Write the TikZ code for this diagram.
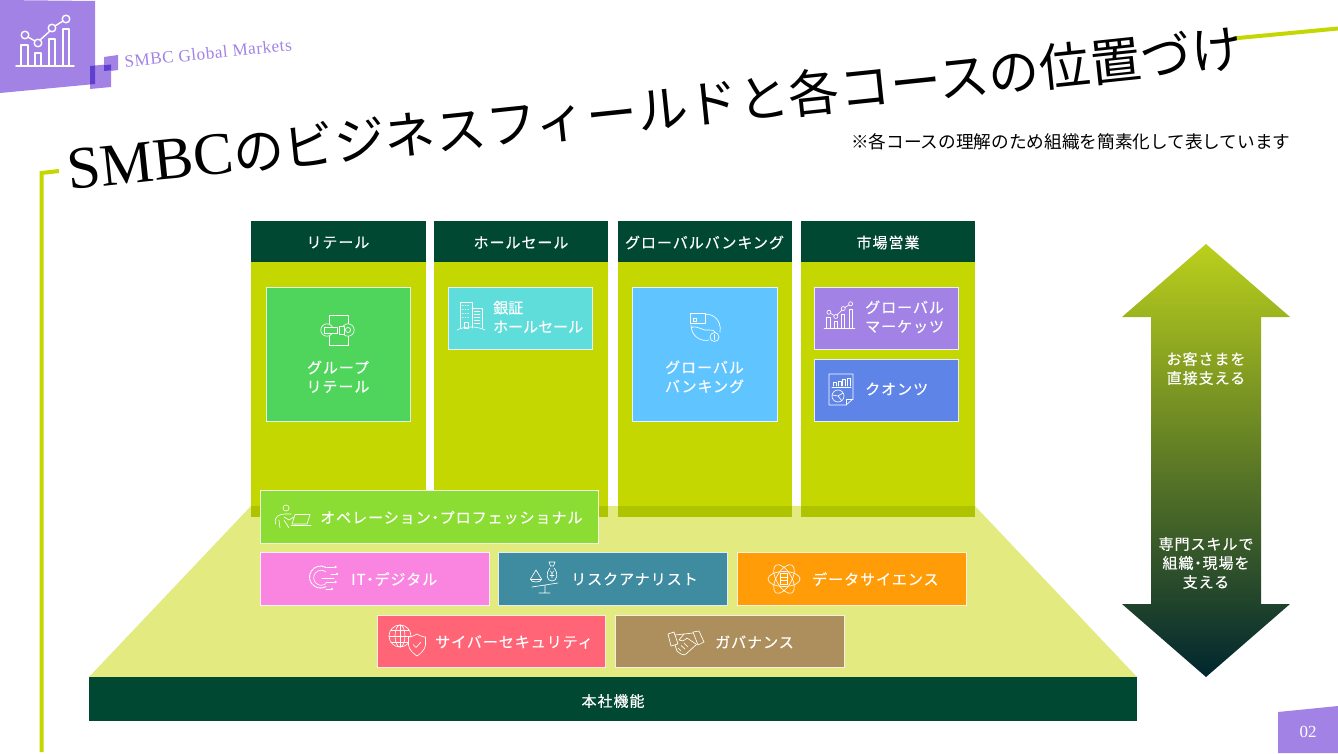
\documentclass[tikz,border=0pt]{standalone}
\usepackage{fontspec}
\setmainfont{Liberation Serif}
\newfontfamily\jp[LetterSpace=6.5,FakeBold=0.35]{Noto Sans CJK JP}
\newfontfamily\jpn[FakeBold=0.35]{Noto Sans CJK JP}
\newfontfamily\jpt{Noto Sans CJK JP}
\newfontfamily\ser{Liberation Serif}
\newfontfamily\serw[LetterSpace=3]{Liberation Serif}
\definecolor{dkgreen}{HTML}{004831}
\definecolor{lime}{HTML}{C4D700}
\definecolor{palelime}{HTML}{E2EA80}
\definecolor{bandlime}{HTML}{AFC400}
\definecolor{cgreen}{HTML}{50D55C}
\definecolor{ccyan}{HTML}{5EDDDB}
\definecolor{cblue}{HTML}{60C5FF}
\definecolor{cpurple}{HTML}{A283E5}
\definecolor{cindigo}{HTML}{5F84E8}
\definecolor{copgreen}{HTML}{8CDD33}
\definecolor{cpink}{HTML}{F985E0}
\definecolor{cteal}{HTML}{3F8CA0}
\definecolor{corange}{HTML}{FF9C08}
\definecolor{cred}{HTML}{FF6576}
\definecolor{cbrown}{HTML}{AD8F5E}
\definecolor{cdeep}{HTML}{5F3FD0}
\definecolor{arrowtop}{HTML}{BBD01C}
\definecolor{arrowmid}{HTML}{3F752F}
\definecolor{arrowbot}{HTML}{00262F}
\tikzset{
  cardbox/.style={fill=#1,draw=white!85!#1,line width=1pt},
  lab/.style={text=white,align=center,inner sep=0pt,font=\jp\fontsize{15}{19}\selectfont},
  labw/.style={lab,anchor=west},
  ico/.style={draw=white,line width=.65pt,line cap=round,line join=round},
  limeline/.style={draw=lime,line width=4pt}
}
\newcommand{\ndot}{\kern-3pt・\kern-3pt}
\newcommand{\chartico}[1]{%
  \draw[ico,#1] (-29,23) -- (29,23);
  \draw[ico,#1] (-24,23) -- (-24,2) -- (-17,2) -- (-17,23);
  \draw[ico,#1] (-10,23) -- (-10,10) -- (-4,10) -- (-4,23);
  \draw[ico,#1] (4,23) -- (4,-4) -- (10,-4) -- (10,23);
  \draw[ico,#1] (18,23) -- (18,-14) -- (24,-14) -- (24,23);
  \draw[ico,#1] (-20,-8) circle (3.8) (-7,0) circle (3.8) (7,-15) circle (3.8) (21,-24) circle (3.8);
  \draw[ico,#1] (-17,-6) -- (-10,-2) (-5,-3) -- (5,-12) (10,-17) -- (18,-22);
}
\begin{document}
\begin{tikzpicture}[x=1pt,y=-1pt]
\useasboundingbox (0,0) rectangle (1338,754);
\fill[white] (0,0) rectangle (1338,754);

% header decoration
\fill[cpurple] (0,0) -- (95,1) -- (95,84) -- (0,93) -- cycle;
\fill[cpurple] (90,66) -- (111,64) -- (111,87) -- (90,89) -- cycle;
\fill[cpurple] (104,57) -- (118,55) -- (118,70) -- (104,72) -- cycle;
\fill[cdeep] (90,66) -- (95,65.5) -- (95,84) -- (90,84.5) -- cycle;
\fill[cdeep] (104,65.2) -- (111,64.5) -- (111,70.3) -- (104,71) -- cycle;
\begin{scope}[shift={(45,43)}]
  \chartico{line width=1.4pt}
\end{scope}
\node[rotate=5.8,anchor=base west,text=cpurple,inner sep=0pt,font=\serw\fontsize{17.2}{20}\selectfont] (brand) at (125,67.5) {SMBC Global Markets};

% accent lines
\draw[limeline] (59,171) -- (41.5,173) -- (41.5,752);
\draw[limeline] (1233,38.5) -- (1338,28.5);

% title
\node[rotate=6,anchor=base west,inner sep=0pt,text=black] (title) at (69,190) {{\ser\fontsize{60}{64}\selectfont SMBC}{\jpt\fontsize{50.9}{56}\selectfont のビジネスフィールドと各コースの位置づけ}};
\node[anchor=base west,inner sep=0pt,text=black,font=\jpt\fontsize{17.65}{20}\selectfont] (note) at (851,148.5) {※各コースの理解のため組織を簡素化して表しています};

% base trapezoid
\fill[palelime] (89,677) -- (251,506) -- (975,506) -- (1137,677) -- cycle;

% columns
\foreach \xa/\xb in {251/425.5,434/608,617.5/791.5,801/975}{
  \fill[lime] (\xa,262) rectangle (\xb,506);
  \fill[bandlime] (\xa,506) rectangle (\xb,517);
  \fill[dkgreen] (\xa,221) rectangle (\xb,262);
}
\node[lab] (h1) at (338,242.5) {リテール};
\node[lab] (h2) at (521,242.5) {ホールセール};
\node[lab] (h3) at (704.5,242.5) {グローバルバンキング};
\node[lab] (h4) at (888,242.5) {市場営業};

% upper cards
\draw[cardbox=cgreen] (266.5,287) rectangle (410.5,421);
\draw[cardbox=ccyan] (448,287) rectangle (592,349);
\draw[cardbox=cblue] (632.5,287) rectangle (777,421);
\draw[cardbox=cpurple] (814,287) rectangle (958.5,349);
\draw[cardbox=cindigo] (814,359) rectangle (958.5,421);
\node[lab] (t1) at (338,376.8) {グループ\\リテール};
\node[labw,align=left,font=\jpn\fontsize{15}{19}\selectfont] (t2) at (493,316.8) {銀証\\ホールセール};
\node[lab] (t3) at (704.5,376.8) {グローバル\\バンキング};
\node[labw,align=left] (t4) at (865,316.8) {グローバル\\マーケッツ};
\node[labw] (t5) at (865,389) {クオンツ};

% lower cards
\draw[cardbox=copgreen] (260,490.5) rectangle (598.5,543);
\draw[cardbox=cpink] (260,552.5) rectangle (489,605);
\draw[cardbox=cteal] (498.5,552.5) rectangle (727.5,605);
\draw[cardbox=corange] (737.5,552.5) rectangle (966.5,605);
\draw[cardbox=cred] (377,615) rectangle (605.5,667);
\draw[cardbox=cbrown] (615.5,615) rectangle (844,667);
\node[labw] (t6) at (320,517.5) {オペレーション\ndot プロフェッショナル};
\node[labw] (t7) at (351,579) {IT\ndot デジタル};
\node[labw] (t8) at (571,579) {リスクアナリスト};
\node[labw] (t9) at (812,579) {データサイエンス};
\node[labw] (t10) at (435,642) {サイバーセキュリティ};
\node[labw] (t11) at (715,642) {ガバナンス};

% head-office bar
\fill[dkgreen] (89,677) rectangle (1137,721);
\node[lab] (hq) at (613,701) {本社機能};

% double arrow
\shade[top color=arrowtop,middle color=arrowmid,bottom color=arrowbot]
  (1206,244) -- (1290,317) -- (1261,317) -- (1261,604) -- (1290,604) -- (1206,677)
  -- (1122,604) -- (1151,604) -- (1151,317) -- (1122,317) -- cycle;
\node[lab] (a1) at (1206,368.5) {お客さまを\\直接支える};
\node[lab] (a2) at (1206,563) {専門スキルで\\組織\ndot 現場を\\支える};

% page number
\fill[cpurple] (1278,712) -- (1338,706) -- (1338,753) -- (1278,753) -- cycle;
\node[text=white,inner sep=0pt,font=\ser\fontsize{17}{20}\selectfont] (pg) at (1308,731.5) {02};

% --- icons ---
% group retail
\draw[ico] (329,315) rectangle (348,345);
\draw[ico,fill=cgreen] (327,330) circle (6.2);
\draw[ico,fill=cgreen] (348,330) circle (6.2);
\draw[ico,fill=cgreen] (324,327.5) rectangle (337,333);
\draw[ico,fill=cgreen] (339,326) rectangle (344,334);
\draw[ico] (348,330) circle (2.6);
% bank building
\draw[ico] (460,328) -- (460,302) -- (472,302) -- (472,328);
\draw[ico] (472,308) -- (482,308) -- (482,328);
\draw[ico] (457,330) .. controls (465,326) and (477,326) .. (485,330);
\draw[ico] (464,322) rectangle (468,328);
\foreach \yy in {305,309,313,317}{\draw[ico,dotted] (462.5,\yy) -- (470,\yy);}
\foreach \yy in {311,314,317,320,323}{\draw[ico] (474.5,\yy) -- (480,\yy);}
% global banking
\draw[ico] (700,315) .. controls (712,311) and (722,320) .. (720,332);
\draw[ico] (691,325) .. controls (691,337) and (702,342) .. (709,340);
\draw[ico] (691,328) .. controls (697,324) and (703,332) .. (709,330) .. controls (712,329) and (715,331) .. (716,333);
\draw[ico,fill=cblue] (690.5,313) rectangle (705,323);
\draw[ico] (693,318) rectangle (696,321);
\draw[ico,fill=cblue] (714.5,337) circle (4.5);
\draw[ico] (714.5,334.5) -- (714.5,339.5);
% global markets
\begin{scope}[shift={(839.5,316.5)},scale=.53]
  \chartico{}
\end{scope}
% quants
\draw[ico] (829,374) -- (853,374) -- (853,399) -- (846,405) -- (829,405) -- cycle;
\draw[ico] (853,399) -- (846,399) -- (846,405);
\foreach \xx/\tt in {833.5/382,838/381,842.5/379,847/378}{\draw[ico] (\xx,386) -- (\xx,\tt) -- (\xx+3,\tt) -- (\xx+3,386);}
\draw[ico] (832,387) -- (851,387);
\draw[ico] (838,396) circle (6);
\draw[ico] (832,395) -- (838,396) -- (843,393) (838,396) -- (842,401);
% operations
\draw[ico] (286,508) circle (3);
\draw[ico] (275.5,524) .. controls (274,516) and (279,514.5) .. (285,514) -- (291,514) (294,517) -- (289,520) -- (284,517);
\draw[ico] (279,520) -- (280,528) (284,520) -- (289,528);
\draw[ico] (295,514.5) -- (310,514.5) -- (307,524) -- (292,524) -- cycle;
\draw[ico] (291,525) -- (311,525);
% IT
\draw[ico,dash pattern=on 2.6pt off .9pt,line width=1pt] (326,567.5) arc (-60:-300:11);
\draw[ico] (326,572) arc (-50:-310:7.5);
\draw[ico] (322,578) -- (334,578) (327,567) -- (334,567) (331,574) -- (336,574) (326,582) -- (334,582) (326,589) -- (331,589);
\draw[ico] (335.5,567) circle (.8) (337,574) circle (.8) (335.5,582) circle (.8) (332,589) circle (.8);
% risk
\draw[ico] (536,570) -- (530.5,579) .. controls (530,583) and (542,583) .. (541.5,579) -- cycle;
\draw[ico] (530.5,579) -- (541.5,579);
\draw[ico] (550,568) .. controls (545,574) and (547,581) .. (552,581) .. controls (557,581) and (559,574) .. (554,568);
\draw[ico] (549,562) -- (555,562) -- (553.5,566) -- (550.5,566) -- cycle;
\draw[ico] (532,587) -- (558,583) (545,585) -- (545,593) (539,593) -- (550,593);
\draw[ico] (550.5,571) -- (552,574) -- (553.5,571) (552,574) -- (552,578) (550,575.5) -- (554,575.5);
% data
\begin{scope}[shift={(784,579)}]
  \foreach \an in {0,60,120}{\draw[ico,rotate=\an] (0,0) ellipse (16 and 7.5);}
  \draw[ico] (-3.5,-5.5) rectangle (3.5,5.5);
  \draw[ico] (-3.5,-2) -- (3.5,-2) (-3.5,1.5) -- (3.5,1.5);
\end{scope}
% cyber
\draw[ico] (400,636) circle (11);
\draw[ico] (400,636) ellipse (5 and 11);
\draw[ico] (389,636) -- (411,636) (391,630) -- (409,630) (391,642) -- (409,642) (400,625) -- (400,647);
\draw[ico,fill=cred] (417,634) .. controls (412,637) and (409,637) .. (408.5,637) -- (408.5,645)
   .. controls (409,650) and (414,654) .. (417,656) .. controls (420,654) and (425,650) .. (425.5,645)
   -- (425.5,637) .. controls (425,637) and (422,637) .. (417,634) -- cycle;
\draw[ico] (413,644.5) -- (416,647.5) -- (421,642);
% governance
\draw[ico] (668,634) -- (674,632) -- (678,644) -- (671,646) -- cycle;
\draw[ico] (693,632) -- (699,631) -- (704,642) -- (698,645) -- cycle;
\draw[ico] (675,635) -- (684,634) -- (693,633);
\draw[ico] (697,644) -- (686,654) .. controls (684,656) and (680,654) .. (677,651) -- (675,645);
\draw[ico] (684,634) -- (679,640) .. controls (681,642) and (684,641) .. (687,638) -- (696,644);
\draw[ico] (678,648) -- (681,651) (681,645.5) -- (685,649) (684,643) -- (688,647);
\end{tikzpicture}
\end{document}
